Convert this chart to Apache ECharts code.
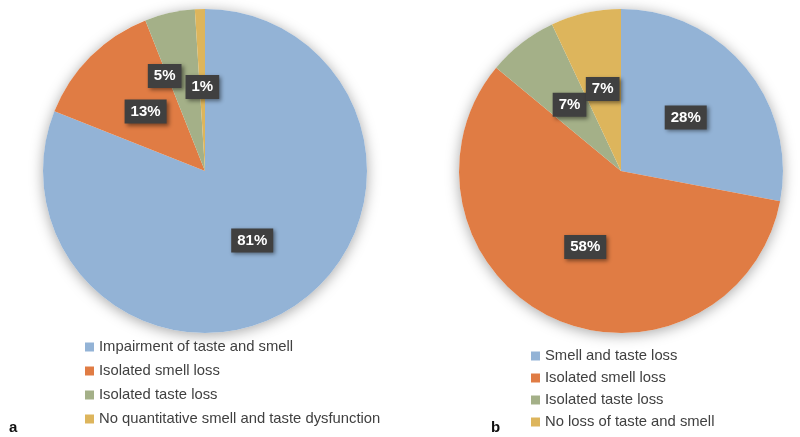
<!DOCTYPE html>
<html>
<head>
<meta charset="utf-8">
<script src="https://cdn.jsdelivr.net/npm/echarts@6/dist/echarts.min.js"></script>
<style>
  html, body { margin: 0; padding: 0; background: #fff; }
  #chart { width: 800px; height: 437px; }
</style>
</head>
<body>
<div id="chart"></div>
<script>
const namesA = [
  "Impairment of taste and smell",
  "Isolated smell loss",
  "Isolated taste loss",
  "No quantitative smell and taste dysfunction",
];
const valuesA = [81, 13, 5, 1];

const namesB = [
  "Smell and taste loss",
  "Isolated smell loss",
  "Isolated taste loss",
  "No loss of taste and smell",
];
const valuesB = [28, 58, 7, 7];

const COLORS = ["#93b3d6", "#e07c44", "#a4b088", "#ddb55c"];
const FONT = "'Liberation Sans', Arial, sans-serif";

const chart = echarts.init(document.getElementById("chart"), null, { renderer: "canvas" });

const labelStyle = {
  show: true,
  position: "inside",
  formatter: "{c}%",
  color: "#fff",
  fontFamily: FONT,
  fontWeight: "bold",
  fontSize: 15,
  backgroundColor: "#404040",
  padding: [5, 6, 4, 6],
  shadowColor: "rgba(0,0,0,0.45)",
  shadowBlur: 4,
  shadowOffsetX: 2,
  shadowOffsetY: 2,
};

function pieData(names, values, colors, extra) {
  return names.map((n, i) => {
    const d = { name: n, value: values[i], itemStyle: { color: colors[i] } };
    if (extra && extra[i]) d.label = extra[i];
    return d;
  });
}

// soft shadow disc behind each pie
function shadowDisc(cx) {
  return {
    type: "pie",
    silent: true,
    center: [cx, 171],
    radius: 162,
    z: 1,
    label: { show: false },
    labelLine: { show: false },
    itemStyle: { color: "#fff", shadowBlur: 14, shadowColor: "rgba(0,0,0,0.35)", shadowOffsetY: 2 },
    data: [{ name: "_bg", value: 1 }],
    legendHoverLink: false,
    tooltip: { show: false },
  };
}

const legendText = { color: "#404040", fontFamily: FONT, fontSize: 14.8, lineHeight: 16 };

chart.setOption({
  backgroundColor: "#fff",
  animation: false,
  legend: [
    {
      orient: "vertical",
      left: 85,
      top: 339,
      padding: 0,
      icon: "rect",
      itemWidth: 9,
      itemHeight: 9,
      itemGap: 8,
      textStyle: legendText,
      data: namesA,
    },
    {
      orient: "vertical",
      left: 531,
      top: 348,
      padding: 0,
      icon: "rect",
      itemWidth: 9,
      itemHeight: 9,
      itemGap: 6,
      textStyle: legendText,
      data: namesB,
    },
  ],
  graphic: [
    { type: "text", left: 9, top: 420, style: { text: "a", font: "bold 15px " + FONT, fill: "#111" } },
    { type: "text", left: 491, top: 420, style: { text: "b", font: "bold 15px " + FONT, fill: "#111" } },
  ],
  series: [
    shadowDisc(205),
    shadowDisc(621),
    {
      type: "pie",
      center: [205, 171],
      radius: 162,
      startAngle: 90,
      clockwise: true,
      z: 2,
      label: labelStyle,
      labelLine: { show: false },
      labelLayout: { hideOverlap: false },
      emphasis: { disabled: true },
      data: pieData(namesA, valuesA, COLORS, [null, null, { offset: [-22, -13] }, null]),
    },
    {
      type: "pie",
      center: [621, 171],
      radius: 162,
      startAngle: 90,
      clockwise: true,
      z: 2,
      label: labelStyle,
      labelLine: { show: false },
      labelLayout: { hideOverlap: false },
      emphasis: { disabled: true },
      data: pieData(namesB, valuesB, COLORS),
    },
  ],
});
</script>
</body>
</html>
